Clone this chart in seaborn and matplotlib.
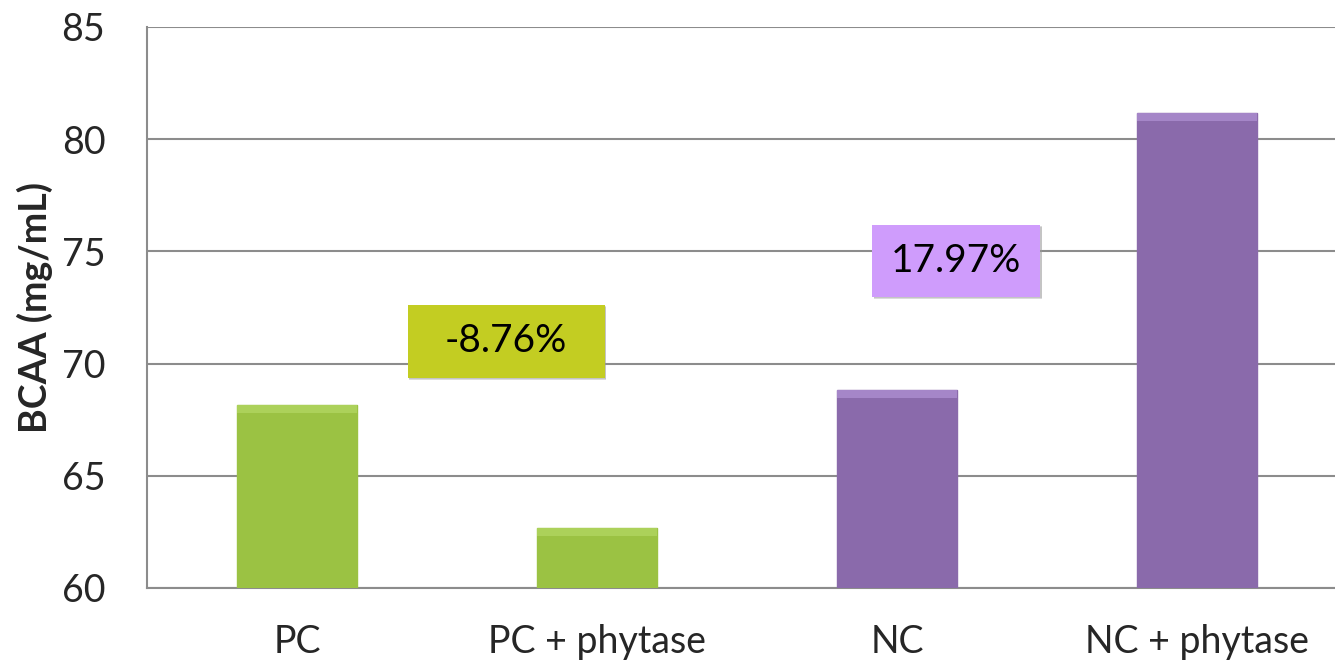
import matplotlib
matplotlib.use("Agg")
import matplotlib.pyplot as plt
import seaborn as sns
import pandas as pd
from matplotlib.patches import Rectangle

categories = ["PC", "PC + phytase", "NC", "NC + phytase"]
values = [68.15, 62.67, 68.82, 81.17]
bar_colors = ["#9bc243", "#9bc243", "#8a6aab", "#8a6aab"]
bar_highlights = ["#acd15a", "#acd15a", "#a586c8", "#a586c8"]
yticks = [60, 65, 70, 75, 80, 85]
annotations = ["-8.76%", "17.97%"]

sns.set_theme(style="white")
plt.rcParams['font.family'] = ['Lato', 'DejaVu Sans']

df = pd.DataFrame({"cat": categories, "val": values})

fig = plt.figure(figsize=(13.35, 6.63), dpi=100)
ax = fig.add_axes([147/1335, 75/663, 1200/1335, 561/663])

sns.barplot(data=df, x="cat", y="val", hue="cat", palette=bar_colors,
            width=0.4, legend=False, ax=ax, saturation=1,
            edgecolor="none", zorder=3)

ax.set_ylim(60, 85)
ax.set_xlim(-0.5, 3.5)

# subtle bevel highlight on top of each bar
for p, c, hc in zip(ax.patches[:4], bar_colors, bar_highlights):
    p.set_edgecolor(c)
    x0 = p.get_x(); w = p.get_width(); top = p.get_y() + p.get_height()
    ax.add_patch(Rectangle((x0, top - 0.35), w, 0.35, facecolor=hc,
                           edgecolor="none", zorder=3.5))

ax.set_yticks(yticks)
ax.yaxis.grid(True, color="#8c8c8c", linewidth=1.5, zorder=0)
ax.set_axisbelow(True)
for s in ["top", "right"]:
    ax.spines[s].set_visible(False)
for s in ["left", "bottom"]:
    ax.spines[s].set_color("#8c8c8c")
    ax.spines[s].set_linewidth(1.5)

ax.set_xticks([-0.5, 0.5, 1.5, 2.5, 3.5], minor=False)
ax.set_xticklabels([])
ax.set_xticks([0, 1, 2, 3], minor=True)
ax.set_xticklabels(categories, minor=True, fontsize=27)
ax.tick_params(axis="x", which="major", length=12, width=1.5, color="#8c8c8c", direction="out")
ax.tick_params(axis="x", which="minor", length=0, pad=26)
ax.tick_params(axis="y", length=12, width=1.5, color="#8c8c8c", direction="out",
               labelsize=27, pad=18)
ax.set_xlabel("")
ax.set_ylabel("BCAA (mg/mL)", fontsize=27, fontweight="bold", labelpad=6)

# annotation boxes
boxes = [
    (0.697, 71.0, 0.657, 3.25, "#c3cd22"),
    (2.197, 74.57, 0.56, 3.2, "#cf9cfc"),
]
for (cx, cy, w, h, col), txt in zip(boxes, annotations):
    for k, a in [(0.10, 0.35), (0.05, 0.35)]:
        sh = Rectangle((cx - w/2 + 0.006, cy - h/2 - k), w, h, facecolor="#9a9a9a",
                       edgecolor="none", alpha=a, zorder=4)
        ax.add_patch(sh)
    r = Rectangle((cx - w/2, cy - h/2), w, h, facecolor=col, edgecolor="none", zorder=5)
    ax.add_patch(r)
    ax.text(cx, cy, txt, ha="center", va="center", fontsize=28, color="black", zorder=6)

fig.savefig("out.png", dpi=100)
